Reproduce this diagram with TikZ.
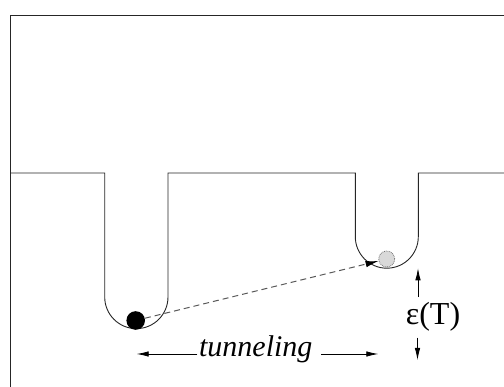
\documentclass[tikz,border=0pt]{standalone}
\usepackage{fontspec}
\setmainfont{Liberation Serif}
\usetikzlibrary{arrows.meta}
\begin{document}
\begin{tikzpicture}[x=1pt,y=1pt,
  wall/.style={line width=0.9pt, black!85, line join=miter},
  arr/.style={-{Latex[length=12pt,width=5.5pt]}, line width=0.8pt, black},
  hop/.style={draw=black!65, line width=1pt, dash pattern=on 6pt off 4pt,
    -{Latex[length=13pt,width=6.5pt,color=black]}},
  label/.style={inner sep=0pt, anchor=base},
  particle/.style={circle, inner sep=0pt, fill=black, minimum size=18.6pt},
  ghost/.style={circle, inner sep=0pt, fill=black!15, draw=black!55,
    densely dotted, line width=0.8pt, minimum size=16pt}
]
\useasboundingbox (0,0) rectangle (504,387);

% outer frame (top and left edges)
\draw[wall] (10,0) -- (10,372) -- (504,372);

% potential profile with two wells
\draw[wall] (10,214) -- (104.7,214) -- (104.7,90)
  arc[start angle=180, end angle=360, radius=31.65pt]
  -- (168,214) -- (355.3,214) -- (355.3,150.3)
  arc[start angle=180, end angle=360, radius=31.5pt]
  -- (418.3,214) -- (504,214);

% particle in the deep well and its image in the shallow well
\node[particle] (ball) at (135.7,66.5) {};
\node[ghost] (gball) at (386.7,128) {};
\draw[hop] (ball) -- (gball);

% tunneling label with its double arrow
\node[label, inner sep=1.5pt, font=\itshape\fontsize{30}{36}\selectfont]
  (tun) at (255.8,30.3) {tunneling};
\coordinate (tl) at (136.7,33);
\coordinate (tr) at (378.3,33);
\draw[arr] (tun.west |- tl) -- (tl);
\draw[arr, shorten <=7pt] (tun.east |- tr) -- (tr);

% energy offset
\node[label, font=\fontsize{32}{38}\selectfont] (eps) at (433,62) {ε(T)};
\coordinate (eu) at (418,118.7);
\coordinate (ed) at (417.5,27);
\draw[arr, shorten <=5.5pt] (eps.north -| eu) -- (eu);
\draw[arr, shorten <=5.5pt] (eps.south -| ed) -- (ed);
\end{tikzpicture}
\end{document}
